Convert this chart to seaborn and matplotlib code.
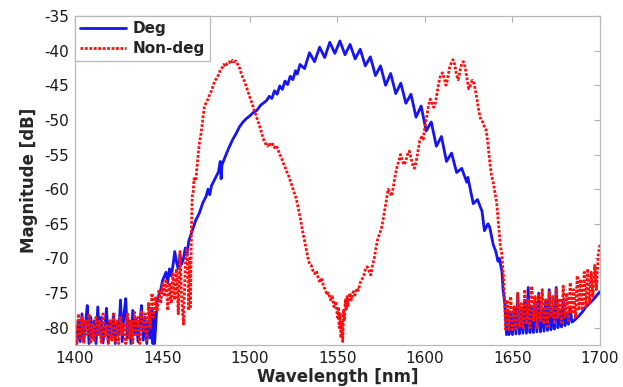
import numpy as np
import pandas as pd
import matplotlib
matplotlib.use("Agg")
import matplotlib.pyplot as plt
import seaborn as sns

# Deg (blue, solid)
deg_wl = [1400, 1401, 1402, 1403, 1404, 1405, 1406, 1407, 1408, 1409,
          1410, 1411, 1412, 1413, 1414, 1415, 1416, 1417, 1418, 1419,
          1420, 1421, 1422, 1423, 1424, 1425, 1426, 1427, 1428, 1429,
          1430, 1431, 1432, 1433, 1434, 1435, 1436, 1437, 1438, 1439,
          1440, 1441, 1442, 1443, 1444, 1444.5, 1445, 1445.5,
          1447, 1449, 1450, 1452, 1453, 1454, 1455, 1456, 1457, 1458,
          1459, 1460, 1461, 1462, 1463, 1464, 1465, 1467, 1469, 1471,
          1473, 1475, 1476, 1477, 1478, 1480, 1482, 1483, 1483.5, 1484,
          1486, 1488, 1490, 1492, 1494, 1496, 1498, 1500, 1502, 1504,
          1506, 1508, 1509.5, 1511, 1512.5, 1514, 1515.5, 1517, 1518.5, 1520,
          1521.5, 1523, 1524.5, 1526, 1527, 1528.6, 1531.2, 1534.0, 1536.9, 1539.8,
          1542.7, 1545.6, 1548.5, 1551.4, 1554.3, 1557.2, 1560.1, 1563.0, 1565.9, 1568.8,
          1571.7, 1574.6, 1577.5, 1580.4, 1583.3, 1586.2, 1589.1, 1592.0, 1594.9, 1597.8,
          1600.7, 1603.6, 1606.5, 1609.4, 1612.3, 1615.2, 1618.1, 1621.0, 1623.9, 1624.5,
          1627.6, 1630, 1632.6, 1634, 1636, 1637, 1639, 1640.5, 1641.7, 1642.5,
          1644, 1644.6, 1645.7, 1646.6, 1647.5, 1648, 1649, 1650, 1651, 1652,
          1653, 1654, 1655, 1656, 1657, 1658, 1659, 1660, 1661, 1662,
          1663, 1664, 1665, 1666, 1667, 1668, 1669, 1670, 1671, 1672,
          1673, 1674, 1675, 1676, 1677, 1678, 1679, 1680, 1681, 1682,
          1683, 1684, 1686, 1688, 1690, 1692, 1694, 1696, 1698, 1700]
deg_db = [-80.5, -82.3, -79.0, -82.0, -78.0, -81.8, -79.5, -76.8, -82.3, -78.5,
          -81.5, -79.0, -82.3, -77.0, -81.0, -78.5, -82.2, -80.0, -77.2, -82.0,
          -79.0, -81.5, -78.0, -82.3, -79.5, -81.0, -76.0, -82.0, -78.0, -75.8,
          -81.5, -79.0, -82.3, -77.5, -81.0, -78.8, -82.0, -79.5, -76.8, -81.8,
          -78.5, -82.3, -79.0, -81.5, -77.5, -82.3, -77.8, -82.3,
          -76.0, -74.5, -73.2, -72.0, -73.5, -71.5, -72.5, -71.0, -69.0, -70.5,
          -71.5, -69.5, -70.8, -70.0, -68.5, -69.5, -67.5, -66.0, -64.5, -63.5,
          -62.0, -61.0, -60.0, -60.8, -59.5, -58.5, -57.5, -56.0, -58.5, -56.5,
          -55.2, -54.0, -52.9, -52.0, -51.0, -50.3, -49.8, -49.4, -48.9, -48.6,
          -47.9, -47.5, -47.2, -46.6, -46.9, -45.8, -46.3, -45.1, -45.6, -44.4,
          -44.9, -43.7, -44.2, -42.9, -43.4, -42.0, -42.6, -40.3, -41.6, -39.5,
          -41.0, -38.8, -40.4, -38.6, -40.6, -39.1, -41.2, -39.8, -42.2, -40.9,
          -43.6, -42.2, -45.0, -43.3, -46.2, -44.7, -47.6, -46.3, -49.6, -48.0,
          -51.6, -50.3, -53.8, -52.4, -56.0, -54.8, -57.6, -57.0, -59.0, -58.3,
          -62.1, -61.5, -63.2, -66.0, -65.0, -65.5, -68.0, -69.0, -70.4, -70.0,
          -71.9, -74.4, -76.7, -81.0, -77.5, -81.0, -78.0, -81.0, -77.0, -80.9,
          -75.3, -80.9, -77.5, -80.8, -76.0, -80.8, -74.2, -80.7, -77.0, -80.7,
          -76.5, -80.6, -75.0, -80.6, -77.5, -80.5, -76.0, -80.4, -74.5, -80.3,
          -77.0, -80.2, -74.2, -80.0, -77.5, -79.9, -76.0, -79.7, -78.0, -79.5,
          -77.0, -79.2, -78.8, -78.3, -77.7, -77.0, -76.5, -76.0, -75.4, -74.8]

# Non-deg (red, dotted)
nondeg_wl = [1400, 1401, 1402, 1403, 1404, 1405, 1406, 1407, 1408, 1409,
             1410, 1411, 1412, 1413, 1414, 1415, 1416, 1417, 1418, 1419,
             1420, 1421, 1422, 1423, 1424, 1425, 1426, 1427, 1428, 1429,
             1430, 1431, 1432, 1433, 1434, 1435, 1436, 1437, 1438, 1439,
             1440, 1441, 1442, 1443, 1444, 1445, 1446, 1447, 1448, 1449,
             1450, 1451, 1452, 1453, 1454, 1455, 1456, 1457, 1458, 1459,
             1460, 1461, 1462, 1463, 1464, 1465, 1465.5, 1466, 1466.5, 1467,
             1467.5, 1468, 1469, 1470, 1471, 1472, 1473, 1474, 1475, 1476,
             1477, 1478, 1479, 1480, 1481, 1482, 1483, 1484, 1485, 1486,
             1487, 1488, 1489, 1490, 1491, 1492, 1493, 1494, 1495, 1496,
             1497, 1498, 1499, 1500, 1501, 1502, 1503, 1504, 1505, 1506,
             1507, 1508, 1509, 1510, 1511, 1512, 1513, 1514, 1515, 1516,
             1517, 1518, 1519, 1520, 1521, 1522, 1523, 1524, 1525, 1526,
             1527, 1528, 1529, 1530, 1531, 1532, 1533, 1534, 1535, 1536,
             1537, 1538, 1539, 1540, 1541, 1542, 1543, 1544, 1545, 1546,
             1547, 1548, 1549, 1550, 1550.5, 1551, 1551.5, 1552, 1552.5, 1553,
             1553.5, 1554, 1554.5, 1555, 1555.5, 1556, 1557, 1558, 1559, 1560,
             1561, 1562, 1563, 1564, 1565, 1566, 1567, 1568, 1569, 1570,
             1571, 1572, 1573, 1574, 1575, 1576, 1577, 1578, 1579, 1580,
             1581, 1582, 1583, 1584, 1585, 1586, 1587, 1588, 1589, 1590,
             1591, 1592, 1593, 1594, 1595, 1596, 1597, 1598, 1599, 1600,
             1601, 1602, 1603, 1604, 1605, 1606, 1607, 1608, 1609, 1610,
             1611, 1612, 1613, 1614, 1615, 1616, 1617, 1618, 1619, 1620,
             1621, 1622, 1623, 1624, 1625, 1626, 1627, 1628, 1629, 1630,
             1631, 1632, 1633, 1634, 1635, 1636, 1637, 1638, 1639, 1640,
             1641, 1642, 1643, 1644, 1644.5, 1645, 1645.5, 1646, 1647, 1648,
             1649, 1650, 1651, 1652, 1653, 1654, 1655, 1656, 1657, 1658,
             1659, 1660, 1661, 1662, 1663, 1664, 1665, 1666, 1667, 1668,
             1669, 1670, 1671, 1672, 1673, 1674, 1675, 1676, 1677, 1678,
             1679, 1680, 1681, 1682, 1683, 1684, 1685, 1686, 1687, 1688,
             1689, 1690, 1691, 1692, 1693, 1694, 1695, 1696, 1697, 1698,
             1699, 1700]
nondeg_db = [-79.0, -82.3, -78.0, -81.5, -78.5, -82.3, -79.0, -81.0, -78.0, -82.3,
             -79.5, -82.0, -78.5, -81.0, -79.0, -82.3, -78.0, -81.5, -79.5, -82.3,
             -78.8, -81.8, -77.8, -82.0, -79.0, -82.3, -78.5, -81.0, -79.3, -82.3,
             -78.0, -81.5, -79.0, -82.2, -77.8, -81.0, -78.5, -82.3, -77.5, -80.5,
             -78.0, -81.8, -76.5, -80.0, -75.0, -78.5, -75.5, -77.5, -74.5, -76.5,
             -73.5, -75.5, -73.0, -77.5, -73.5, -76.5, -72.0, -76.0, -71.5, -78.0,
             -69.0, -76.0, -79.5, -71.0, -68.5, -77.5, -70.0, -77.0, -66.0, -61.0,
             -60.5, -58.5, -58.8, -56.0, -53.5, -52.0, -50.0, -48.0, -47.5, -47.0,
             -46.3, -45.8, -45.0, -44.3, -44.0, -43.5, -42.8, -42.5, -42.0, -42.3,
             -41.8, -41.6, -41.9, -41.4, -41.6, -41.5, -42.0, -42.5, -43.3, -44.0,
             -44.5, -45.3, -46.0, -46.8, -47.5, -48.3, -49.0, -49.8, -50.5, -51.3,
             -52.2, -53.0, -53.5, -53.8, -53.3, -53.8, -53.5, -54.0, -53.7, -54.3,
             -55.0, -55.5, -56.2, -56.8, -57.5, -58.0, -58.8, -59.5, -60.3, -61.0,
             -62.0, -63.3, -64.5, -66.0, -67.2, -68.5, -69.8, -70.8, -71.0, -71.8,
             -72.2, -71.8, -72.8, -73.5, -72.8, -74.0, -74.5, -75.3, -75.0, -76.0,
             -75.5, -77.0, -76.2, -78.5, -77.0, -80.0, -78.0, -81.5, -79.0, -82.0,
             -77.5, -79.0, -76.0, -77.5, -75.5, -76.8, -75.0, -76.0, -74.8, -75.3,
             -74.3, -74.6, -73.5, -73.0, -72.5, -71.5, -71.2, -71.8, -72.4, -71.0,
             -70.0, -68.5, -67.2, -66.5, -65.8, -64.5, -63.0, -61.5, -60.0, -60.5,
             -61.0, -59.5, -58.0, -56.8, -56.0, -55.0, -55.8, -56.5, -56.0, -55.0,
             -54.5, -55.5, -56.5, -57.0, -56.0, -54.5, -53.0, -52.5, -52.8, -51.0,
             -49.5, -48.0, -47.0, -47.5, -48.2, -47.5, -46.0, -44.5, -43.5, -43.2,
             -44.0, -45.0, -44.0, -42.5, -41.8, -41.3, -42.0, -43.5, -44.2, -43.0,
             -41.8, -41.6, -42.5, -44.0, -45.5, -45.0, -44.3, -44.7, -46.0, -47.5,
             -49.0, -50.0, -50.3, -51.0, -51.5, -53.5, -56.0, -58.0, -59.0, -60.5,
             -62.0, -65.0, -68.0, -69.5, -71.5, -73.0, -76.0, -80.2, -76.0, -80.5,
             -75.5, -80.3, -77.0, -80.2, -75.0, -79.8, -76.5, -80.2, -74.5, -79.5,
             -76.0, -80.0, -74.0, -79.0, -75.5, -80.0, -75.0, -79.0, -74.5, -79.5,
             -76.0, -79.8, -74.8, -78.5, -75.5, -79.5, -74.3, -78.5, -75.8, -79.3,
             -74.0, -78.5, -75.0, -79.0, -73.5, -78.0, -74.5, -78.5, -72.5, -77.5,
             -73.0, -77.5, -72.0, -77.0, -71.5, -76.5, -72.0, -75.5, -71.0, -74.5,
             -69.5, -68.0]

x_ticks = [1400, 1450, 1500, 1550, 1600, 1650, 1700]
y_ticks = [-80, -75, -70, -65, -60, -55, -50, -45, -40, -35]

sns.set_style("white")
plt.rcParams['font.family'] = ['DejaVu Sans']
plt.rcParams['axes.unicode_minus'] = False
plt.rcParams['xtick.direction'] = 'in'
plt.rcParams['ytick.direction'] = 'in'

fig = plt.figure(figsize=(6.23, 3.87), dpi=100)
ax = fig.add_axes([0.1204, 0.1085, 0.8426, 0.8502])

deg = pd.DataFrame({'wl': deg_wl, 'db': deg_db})
nondeg = pd.DataFrame({'wl': nondeg_wl, 'db': nondeg_db})

dotted = (0, (1, 0.6))
sns.lineplot(data=deg, x='wl', y='db', ax=ax, color='#1414f5', linewidth=2.0,
             estimator=None, sort=False, label='Deg')
sns.lineplot(data=nondeg, x='wl', y='db', ax=ax, color='#ff1010', linewidth=2.0,
             estimator=None, sort=False, label='Non-deg')
ax.lines[1].set_linestyle(dotted)

ax.set_xlim(1400, 1700)
ax.set_ylim(-82.5, -35)
ax.set_xticks(x_ticks)
ax.set_yticks(y_ticks)
ax.tick_params(axis='both', labelsize=11, colors='#b0b0b0', labelcolor='#1a1a1a',
               length=4, width=0.8, top=True, right=True, pad=4)
for s in ax.spines.values():
    s.set_color('#b8b8b8')
    s.set_linewidth(0.9)

ax.set_xlabel('Wavelength [nm]', fontsize=12, fontweight='bold', labelpad=2)
ax.set_ylabel('Magnitude [dB]', fontsize=12, fontweight='bold', labelpad=5)

leg = ax.legend(loc='upper left', borderaxespad=0, fancybox=False, framealpha=1,
                edgecolor='#b8b8b8', handlelength=3.0, handletextpad=0.4,
                labelspacing=0.3, borderpad=0.35,
                prop={'weight': 'bold', 'size': 11})
leg.get_frame().set_linewidth(0.9)
leg.get_lines()[1].set_linestyle(dotted)

fig.savefig('out.png', dpi=100)
